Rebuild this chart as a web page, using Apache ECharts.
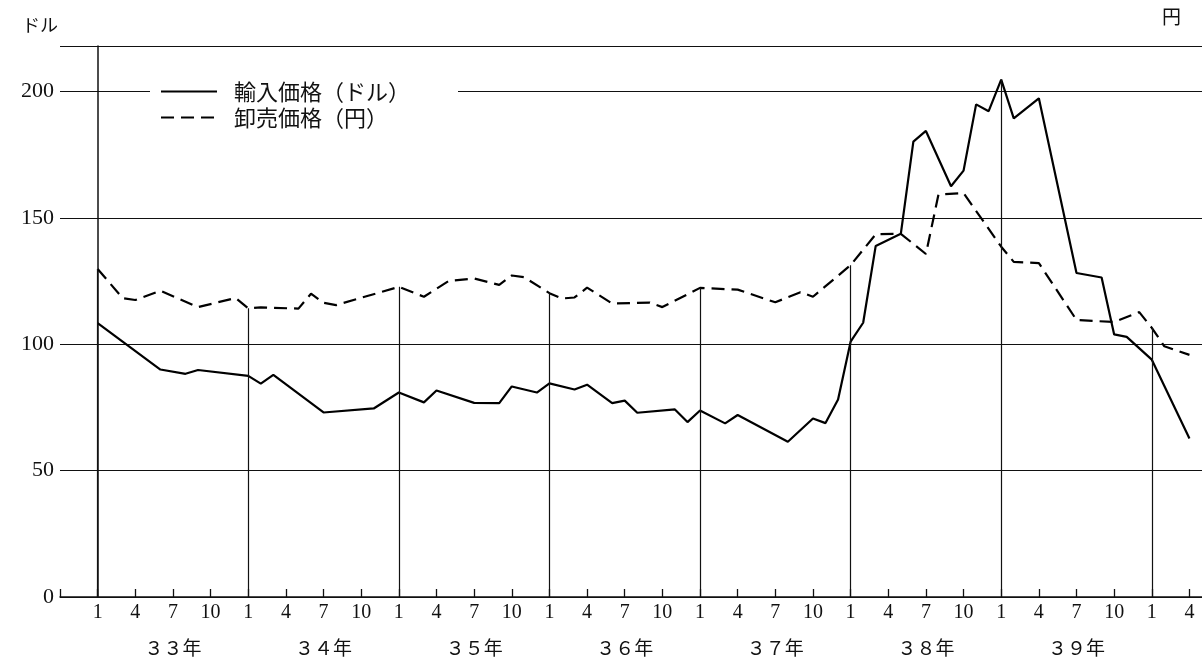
<!DOCTYPE html>
<html>
<head>
<meta charset="utf-8">
<script src="https://cdn.jsdelivr.net/npm/echarts@6/dist/echarts.min.js"></script>
<style>
html,body{margin:0;padding:0;background:#fff;}
#chart{width:1202px;height:663px;}
</style>
</head>
<body>
<div id="chart"></div>
<script>
// Month index 0 = 33年1月, 12 = 34年1月, ... 84 = 40年1月, 87 = 40年4月
const importMonths = [0, 5, 7, 8, 12, 13, 14, 18, 22, 24, 26, 27, 30, 32, 33, 35, 36, 38, 39, 41, 42, 43, 46, 47, 48, 50, 51, 55, 57, 58, 59, 60, 61, 62, 64, 65, 66, 68, 69, 70, 71, 72, 73, 75, 78, 80, 81, 82, 84, 87];
const importValues = [108.4, 90.0, 88.3, 89.8, 87.5, 84.4, 87.9, 73.0, 74.6, 80.9, 77.0, 81.7, 76.8, 76.7, 83.3, 80.9, 84.5, 82.1, 84.0, 76.7, 77.7, 72.9, 74.2, 69.2, 73.8, 68.7, 72.0, 61.4, 70.6, 68.8, 78.1, 101.0, 108.5, 138.9, 143.7, 180.2, 184.4, 162.5, 168.7, 194.9, 192.2, 204.7, 189.4, 197.3, 128.2, 126.4, 103.9, 102.9, 93.9, 62.7];

const wholesaleMonths = [0, 2, 3, 5, 8, 11, 12, 13, 16, 17, 18, 19, 24, 26, 28, 30, 32, 33, 34, 36, 37, 38, 39, 41, 44, 45, 48, 51, 54, 56, 57, 60, 62, 64, 66, 67, 69, 72, 73, 75, 78, 81, 83, 84, 85, 87];
const wholesaleValues = [129.8, 118.2, 117.5, 121.2, 114.7, 118.3, 114.2, 114.6, 114.1, 120.0, 116.4, 115.5, 122.7, 118.8, 125.1, 126.0, 123.5, 127.2, 126.5, 120.2, 118.1, 118.5, 122.4, 116.1, 116.5, 114.7, 122.3, 121.6, 116.6, 120.6, 118.8, 131.3, 143.5, 143.7, 135.7, 159.2, 159.8, 138.6, 132.6, 132.1, 109.6, 108.8, 112.7, 106.5, 99.2, 95.8];

const yearLabels = ['３３年', '３４年', '３５年', '３６年', '３７年', '３８年', '３９年'];
const seriesNames = ['輸入価格（ドル）', '卸売価格（円）'];
const leftUnit = 'ドル';
const rightUnit = '円';
const januaryMonths = [0, 12, 24, 36, 48, 60, 72, 84];
const lastMonth = 87;

function valueAt(months, values, m) {
  const i = months.indexOf(m);
  return i >= 0 ? values[i] : null;
}

const janLines = januaryMonths.map(m => {
  const top = Math.max(valueAt(importMonths, importValues, m) || 0, valueAt(wholesaleMonths, wholesaleValues, m) || 0);
  return [{ coord: [m, 0] }, { coord: [m, top] }];
});

const serif = "'Liberation Serif', 'DejaVu Serif', serif";
const jp = "'Noto Sans CJK JP', sans-serif";

const chart = echarts.init(document.getElementById('chart'), null, { renderer: 'canvas' });
chart.setOption({
  animation: false,
  backgroundColor: '#fff',
  grid: { left: 60, right: 0, top: 46, bottom: 66 },
  graphic: [
    { type: 'text', left: 22, top: 16, style: { text: leftUnit, font: "18px 'Noto Sans CJK JP'", fill: '#111' } },
    { type: 'text', left: 1162, top: 7, style: { text: rightUnit, font: "19px 'Noto Sans CJK JP'", fill: '#111' } }
  ],
  legend: {
    orient: 'vertical',
    left: 150,
    top: 76,
    padding: [3, 48, 3, 10],
    backgroundColor: '#fff',
    itemWidth: 56,
    itemHeight: 14,
    itemGap: 1,
    itemStyle: { opacity: 0 },
    textStyle: { fontFamily: jp, fontSize: 22, lineHeight: 25, color: '#111', padding: [0, 0, 0, 12] },
    data: seriesNames
  },
  xAxis: {
    type: 'value',
    min: -3,
    max: 88,
    interval: 3,
    splitLine: { show: false },
    axisLine: { lineStyle: { color: '#111', width: 1.5 } },
    axisTick: { inside: true, length: 8, lineStyle: { color: '#111', width: 1.3 } },
    axisLabel: {
      margin: 5,
      showMaxLabel: false,
      formatter: function (v) {
        if (v < 0 || v > lastMonth || v % 3 !== 0) return '';
        const mon = (v % 12) + 1;
        if (v % 12 === 6) {
          const y = yearLabels[Math.floor(v / 12)];
          return '{a|' + mon + '}\n{b|' + (y || '') + '}';
        }
        return '{a|' + mon + '}';
      },
      rich: {
        a: { fontFamily: serif, fontSize: 20, lineHeight: 22, color: '#111' },
        b: { fontFamily: jp, fontSize: 19, lineHeight: 48, color: '#111' }
      }
    }
  },
  yAxis: {
    type: 'value',
    min: 0,
    max: 218,
    interval: 50,
    axisLine: { show: true, lineStyle: { color: '#111', width: 1.5 } },
    axisTick: { show: true, length: 4, lineStyle: { color: '#111' } },
    axisLabel: {
      fontFamily: serif, fontSize: 22, color: '#111', margin: 6,
      formatter: v => (v % 50 === 0 ? String(v) : '')
    },
    splitLine: { show: true, lineStyle: { color: '#111', width: 1.2 } }
  },
  series: [{
    name: seriesNames[0],
    type: 'line',
    symbol: 'none',
    data: importMonths.map((m, i) => [m, importValues[i]]),
    lineStyle: { color: '#000', width: 2.2, type: 'solid' },
    itemStyle: { color: '#000' },
    z: 3,
    markLine: {
      silent: true,
      symbol: ['none', 'none'],
      label: { show: false },
      lineStyle: { color: '#111', width: 1.2, type: 'solid' },
      emphasis: { disabled: true },
      data: janLines
    }
  }, {
    name: seriesNames[1],
    type: 'line',
    symbol: 'none',
    data: wholesaleMonths.map((m, i) => [m, wholesaleValues[i]]),
    lineStyle: { color: '#000', width: 2.2, type: [13, 7] },
    itemStyle: { color: '#000' },
    z: 3
  }]
});
</script>
</body>
</html>
